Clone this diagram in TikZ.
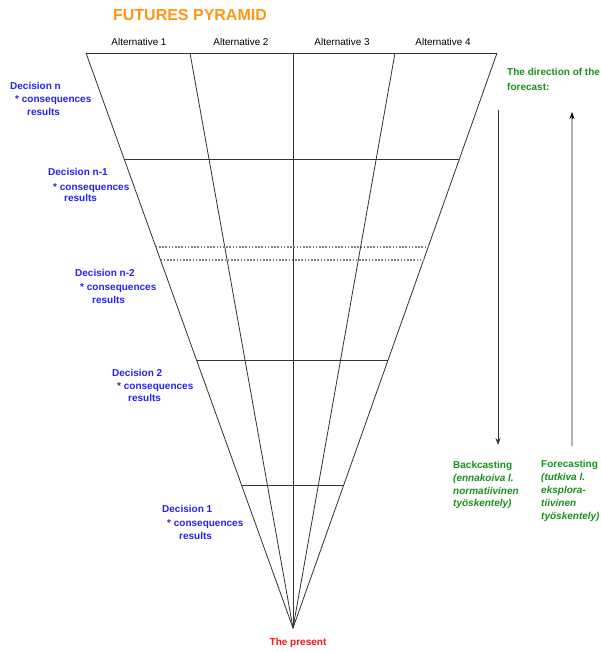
\documentclass[tikz,border=0pt]{standalone}
\usepackage{fontspec}
\setmainfont{Liberation Sans}
\usetikzlibrary{calc,arrows.meta}
\definecolor{ttorange}{RGB}{255,150,20}
\definecolor{ttblue}{RGB}{35,35,245}
\definecolor{ttgreen}{RGB}{25,145,25}
\definecolor{ttred}{RGB}{250,20,20}
\definecolor{ttline}{RGB}{50,50,50}
\begin{document}
\begin{tikzpicture}[x=1pt,y=-1pt,
  pyr/.style={draw=ttline,line width=0.8pt},
  dotline/.style={draw=gray,line width=1.1pt,dash pattern=on 1.6pt off 1.6pt},
  alt/.style={font=\fontsize{9.9}{11}\selectfont,anchor=base,inner sep=0pt},
  dec/.style={font=\fontsize{10}{11}\selectfont\bfseries,text=ttblue,anchor=base west,inner sep=0pt},
  grn/.style={font=\fontsize{10}{11}\selectfont\bfseries,text=ttgreen,anchor=base west,inner sep=0pt},
  grni/.style={grn,font=\fontsize{10}{11}\selectfont\bfseries\itshape},
  arr/.style={line width=0.8pt,-{Stealth[length=7pt,width=5pt]}}
]
\useasboundingbox[fill=white] (0,0) rectangle (600,652);

% pyramid frame
\coordinate (TL) at (86,53);
\coordinate (T1) at (190,53);
\coordinate (T2) at (293,53);
\coordinate (T3) at (395,53);
\coordinate (TR) at (497,53);
\coordinate (AP) at (293,628);

\draw[pyr] (TL) -- (TR);
\draw[pyr] (TL) -- (AP) -- (TR);
\foreach \t in {T1,T2,T3} \draw[pyr] (\t) -- (AP);

% horizontal levels
\draw[pyr] ($(TL)!0.1843!(AP)$) -- ($(TR)!0.1843!(AP)$);
\draw[dotline] ($(TL)!0.3374!(AP)$) -- ($(TR)!0.3374!(AP)$);
\draw[dotline] ($(TL)!0.3600!(AP)$) -- ($(TR)!0.3600!(AP)$);
\draw[pyr] ($(TL)!0.534!(AP)$) -- ($(TR)!0.534!(AP)$);
\draw[pyr] ($(TL)!0.7513!(AP)$) -- ($(TR)!0.7513!(AP)$);

% title
\node[font=\fontsize{16}{18}\selectfont\bfseries,text=ttorange,anchor=base,inner sep=0pt] (title) at (190,21) {FUTURES PYRAMID};

% alternatives
\node[alt] (a1) at (139,46) {Alternative 1};
\node[alt] (a2) at (241,46) {Alternative 2};
\node[alt] (a3) at (342,46) {Alternative 3};
\node[alt] (a4) at (443,46) {Alternative 4};

% decisions
\node[dec] (dn) at (10,90) {Decision n};
\node[dec] (dnc) at (15,103) {* consequences};
\node[dec] (dnr) at (27,116) {results};

\node[dec] (dm) at (48,176) {Decision n-1};
\node[dec] (dmc) at (53,190) {* consequences};
\node[dec] (dmr) at (64,202) {results};

\node[dec] (dk) at (75,276) {Decision n-2};
\node[dec] (dkc) at (80,290) {* consequences};
\node[dec] (dkr) at (92,303) {results};

\node[dec] (d2) at (112,376) {Decision 2};
\node[dec] (d2c) at (117,389) {* consequences};
\node[dec] (d2r) at (128,401) {results};

\node[dec] (d1) at (162,512) {Decision 1};
\node[dec] (d1c) at (167,526) {* consequences};
\node[dec] (d1r) at (179,539) {results};

% present
\node[font=\fontsize{10}{11}\selectfont\bfseries,text=ttred,anchor=base,inner sep=0pt] (present) at (298,645) {The present};

% direction
\node[grn] (dir1) at (507,76) {The direction of the};
\node[grn] (dir2) at (507,91) {forecast:};

\coordinate (bkS) at (498,110);
\coordinate (bkE) at (498,445);
\coordinate (fcS) at (572,446);
\coordinate (fcE) at (572,112);
\draw[arr,draw=ttline] (bkS) -- (bkE);
\draw[line width=1.2pt,draw=gray!60] (fcS) -- ($(fcE)+(0,6)$);
\draw[arr,draw=black] ($(fcE)+(0,7)$) -- (fcE);

\node[grn] (bc1) at (453,468) {Backcasting};
\node[grni] (bc2) at (453,481) {(ennakoiva l.};
\node[grni] (bc3) at (453,494) {normatiivinen};
\node[grni] (bc4) at (453,506) {työskentely)};

\node[grn] (fc1) at (541,467) {Forecasting};
\node[grni] (fc2) at (541,480) {(tutkiva l.};
\node[grni] (fc3) at (541,493) {eksplora-};
\node[grni] (fc4) at (541,506) {tiivinen};
\node[grni] (fc5) at (541,519) {työskentely)};
\end{tikzpicture}
\end{document}
